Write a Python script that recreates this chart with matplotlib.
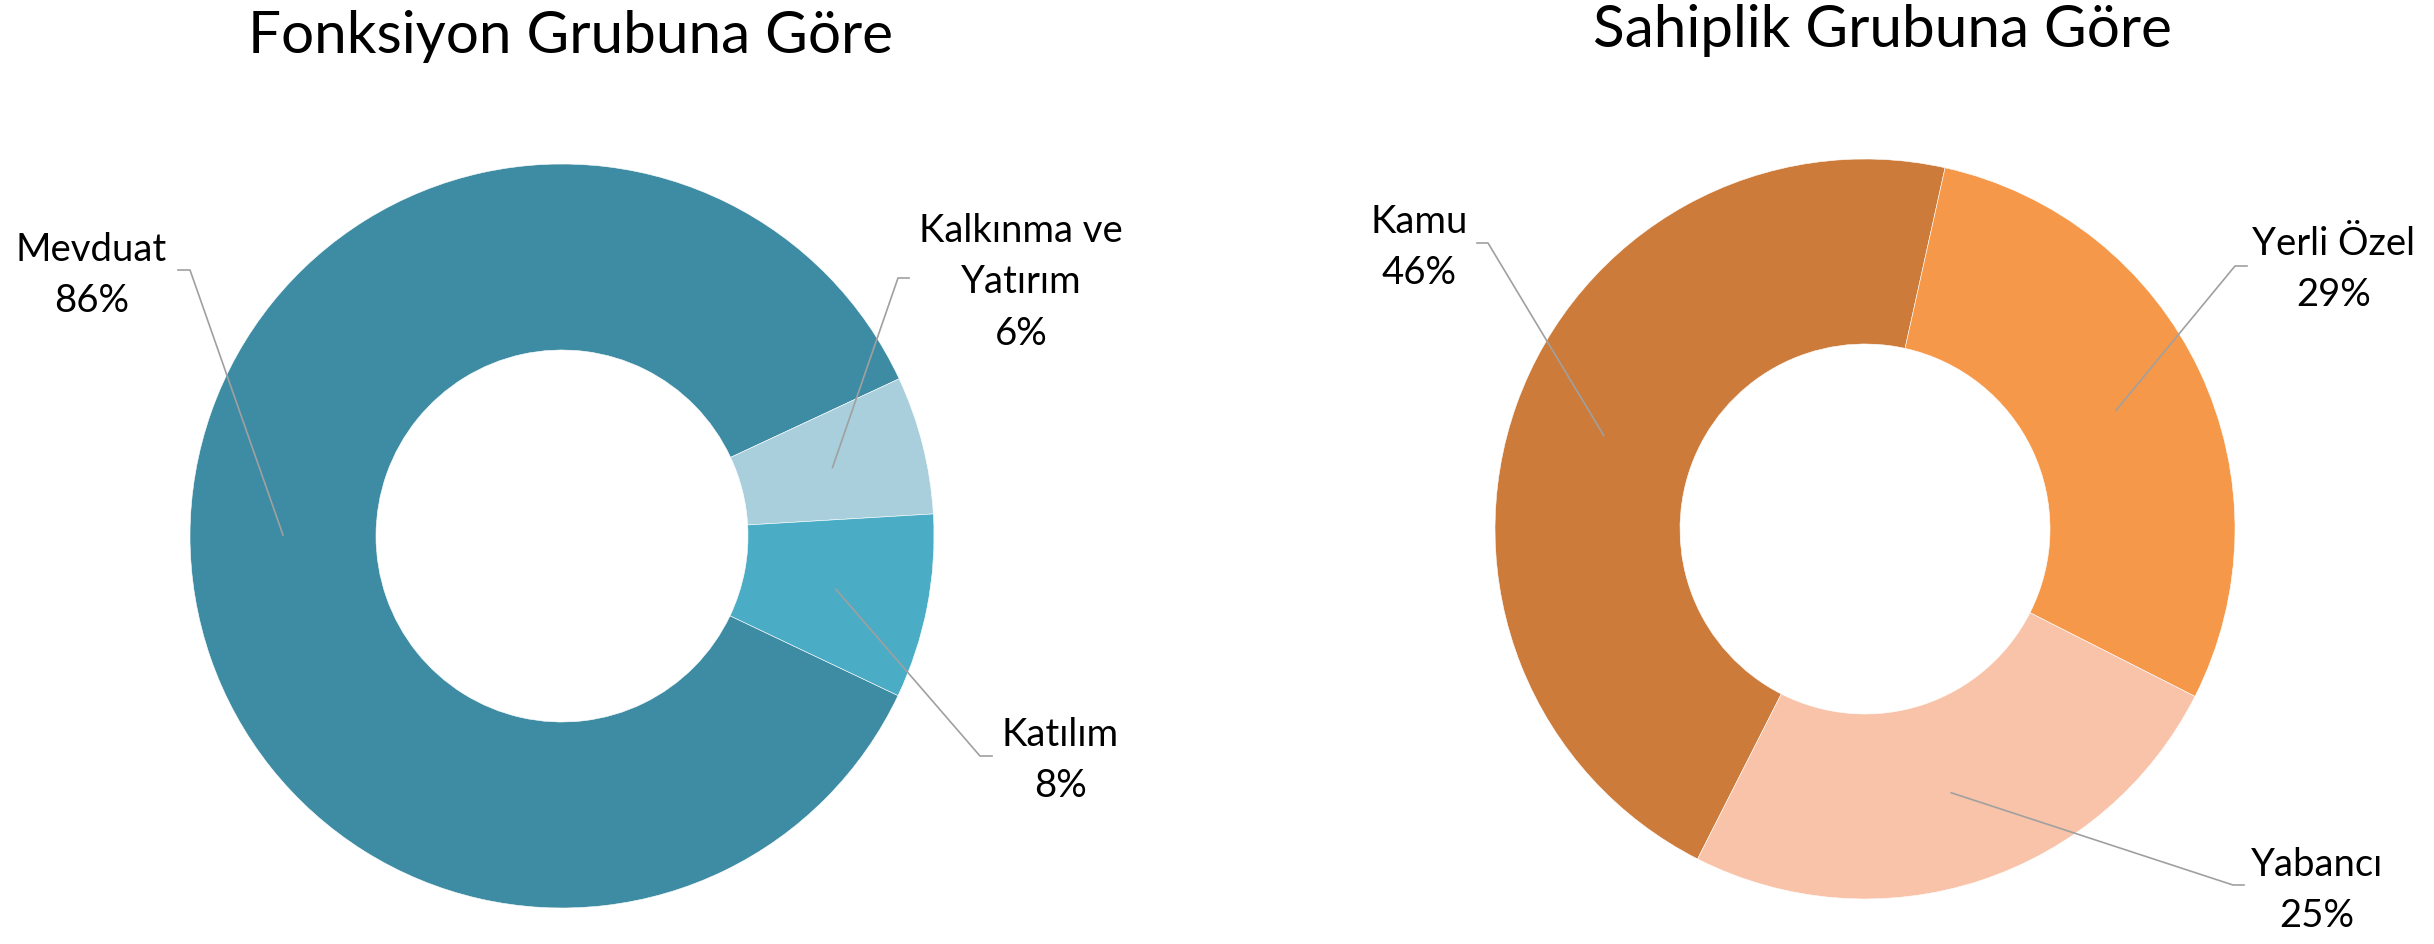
import numpy as np
import matplotlib.pyplot as plt

# data
left_title = 'Fonksiyon Grubuna Göre'
left_names = ['Mevduat', 'Kalkınma ve\nYatırım', 'Katılım']
left_values = [86, 6, 8]
left_colors = ['#3E8CA4', '#A9CFDD', '#4AACC5']

right_title = 'Sahiplik Grubuna Göre'
right_names = ['Kamu', 'Yerli Özel', 'Yabancı']
right_values = [46, 29, 25]
right_colors = ['#CC7B3A', '#F69849', '#F8C3A8']

W, H = 2434, 945
plt.rcParams['font.family'] = ['Lato', 'DejaVu Sans']

fig = plt.figure(figsize=(W / 100, H / 100), dpi=100)
ax = fig.add_axes([0, 0, 1, 1])


def py(y):
    # pixel row from the top -> data y
    return H - y


def donut(names, values, colors, center, radius, start, title, title_xy, layout):
    wedges, _ = ax.pie(values, colors=colors, center=(center[0], py(center[1])),
                       radius=radius, startangle=start, counterclock=False,
                       wedgeprops=dict(width=radius * 0.5, edgecolor='white', linewidth=0.4))
    ax.text(title_xy[0], py(title_xy[1]), title, ha='center', va='baseline', fontsize=42)
    for w, name, v, (tx, ty, lx, ly, ex) in zip(wedges, names, values, layout):
        ang = np.deg2rad((w.theta1 + w.theta2) / 2)
        rm = w.r - w.width / 2
        mx = w.center[0] + rm * np.cos(ang)
        my = w.center[1] + rm * np.sin(ang)
        ax.plot([lx, ex, mx], [py(ly), py(ly), my], color='#A0A0A0', lw=1.2)
        lines = name.split('\n') + ['%d%%' % v]
        for i, s in enumerate(lines):
            ax.text(tx, py(ty + i * 51.5), s, ha='center', va='baseline', fontsize=27.5)


# label layout: text x, first baseline, leader start x, leader y, elbow x
left_layout = [(91.5, 261, 178, 271, 190),
               (1021, 242, 909, 279, 898),
               (1060, 746, 992, 757, 980)]
right_layout = [(1419, 233, 1477, 244, 1488),
                (2334, 255, 2247, 267, 2235),
                (2317, 876, 2244, 886, 2233)]

donut(left_names, left_values, left_colors, (562, 537), 372, 334.6,
      left_title, (570, 53), left_layout)
donut(right_names, right_values, right_colors, (1865, 530), 370, 243.1,
      right_title, (1882, 47), right_layout)

ax.set_xlim(0, W)
ax.set_ylim(0, H)
ax.set_aspect('auto')
ax.axis('off')

fig.savefig('out.png', dpi=100, facecolor='white')
